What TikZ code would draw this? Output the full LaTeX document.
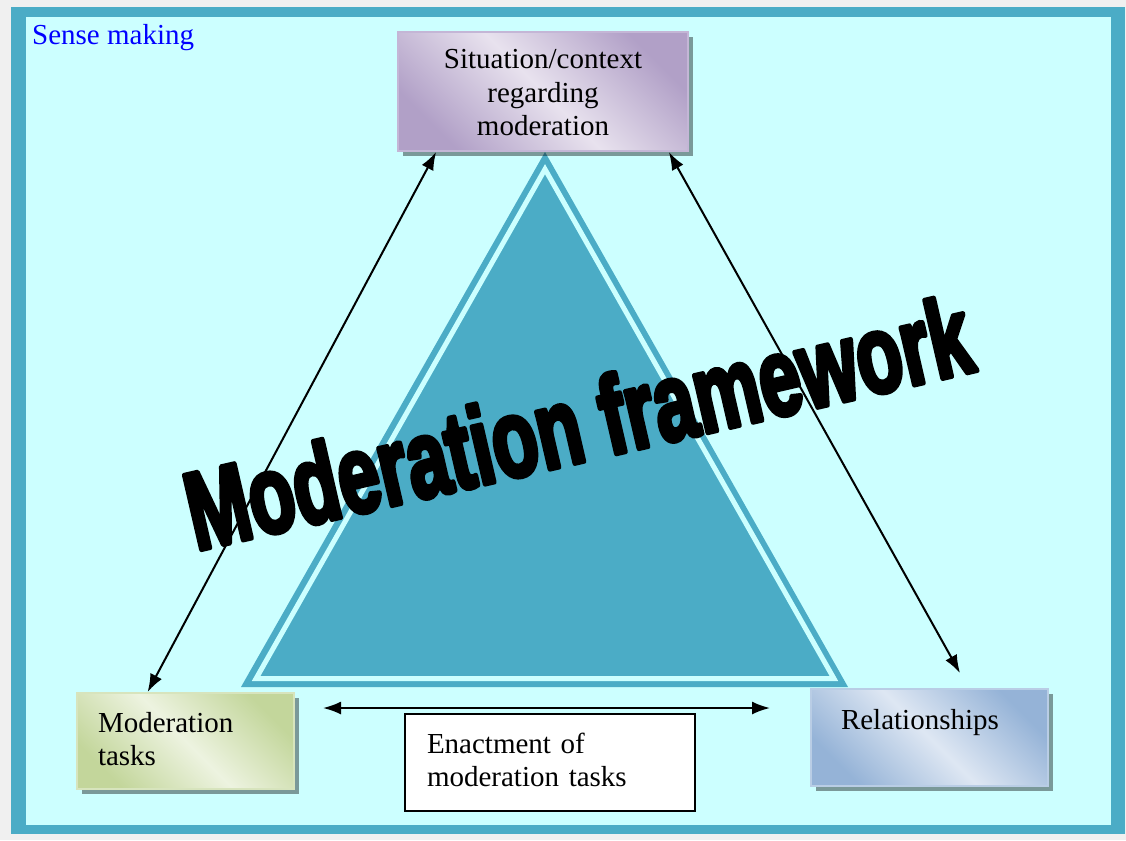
\documentclass[tikz,border=0pt]{standalone}
\usepackage{fontspec}
\setmainfont{Liberation Serif}
\newfontfamily\headlinefont{Liberation Sans Bold}[FakeBold=5]
\usetikzlibrary{arrows.meta,shadows,calc}

\definecolor{pagegray}{RGB}{240,240,240}
\definecolor{frameteal}{RGB}{75,172,198}
\definecolor{panelcyan}{RGB}{204,255,255}
\definecolor{ctxdark}{RGB}{177,160,199}
\definecolor{ctxlight}{RGB}{232,226,238}
\definecolor{ctxline}{RGB}{196,182,214}
\definecolor{taskdark}{RGB}{195,214,155}
\definecolor{tasklight}{RGB}{237,243,224}
\definecolor{taskline}{RGB}{215,228,189}
\definecolor{reldark}{RGB}{149,179,215}
\definecolor{rellight}{RGB}{222,231,243}
\definecolor{relline}{RGB}{185,205,229}

\begin{document}
\begin{tikzpicture}[x=1pt,y=-1pt,
    card/.style={draw,line width=2pt,inner ysep=0pt,text height=20pt,font=\boxfontsize,
        drop shadow={shadow xshift=5pt,shadow yshift=-5pt,opacity=.4,fill=black}},
    link/.style={>={Latex[length=18pt,width=13pt]},<->,line width=2pt}]
    \providecommand{\boxfontsize}{\fontsize{29}{33.5}\selectfont}
    \providecommand{\titlefontsize}{\headlinefont\fontsize{110}{110}\selectfont}
    \useasboundingbox (0,0) rectangle (1126,840);
    \fill[pagegray] (0,0) rectangle (1126,840);
    \fill[frameteal] (11,7) rectangle (1125,834);
    \fill[panelcyan] (26,17) rectangle (1111,825);
    % triangle with a light inner rim
    \fill[frameteal] (545,152) -- (241,687) -- (848,687) -- cycle;
    \filldraw[fill=frameteal,draw=panelcyan,line width=5pt] (545,169.2) -- (256.1,678.5) -- (833.9,678.5) -- cycle;
    \node[card,top color=ctxdark,bottom color=ctxdark,middle color=ctxlight,shading angle=-45,draw=ctxline,
        minimum width=290pt,minimum height=119pt,text width=250pt,inner xsep=20pt,align=center,text depth=65pt]
        (ctx) at (543,91.5) {Situation/context\\regarding\\moderation};
    \node[card,top color=taskdark,bottom color=taskdark,middle color=tasklight,shading angle=-45,draw=taskline,
        minimum width=217pt,minimum height=96pt,text width=175pt,inner xsep=21pt,align=left,text depth=38pt]
        (tasks) at (185.5,741) {Moderation\\tasks};
    \node[card,top color=reldark,bottom color=reldark,middle color=rellight,shading angle=-45,draw=relline,
        minimum width=237pt,minimum height=97pt,text width=177pt,inner xsep=30pt,align=left,text depth=37pt]
        (rel) at (929.5,737.5) {Relationships};
    \node[draw=black,fill=white,line width=1.5pt,inner ysep=0pt,text height=20pt,font=\boxfontsize,
        minimum width=290pt,minimum height=97pt,text width=246pt,inner xsep=22pt,align=left,text depth=39pt]
        (enact) at (550,762.5) {Enactment of\\moderation tasks};
    \coordinate (relend) at (960,673);
    \coordinate (enactl) at (323,708);
    \coordinate (enactr) at (770,708);
    \draw[link] ($(tasks.north west)!.327!(tasks.north east)$) -- ($(ctx.south west)!.134!(ctx.south east)$);
    \draw[link] ($(ctx.south west)!.931!(ctx.south east)$) -- (relend);
    \draw[link] (enactl) -- (enactr);
    \node[font=\titlefontsize,inner sep=0pt,line join=round,rotate=13,xscale=.68] (title) at (578,422) {Moderation framework};
    \node[font=\boxfontsize,text=blue,inner sep=0pt,anchor=base west] (sense) at (32,45) {Sense making};
\end{tikzpicture}
\end{document}
